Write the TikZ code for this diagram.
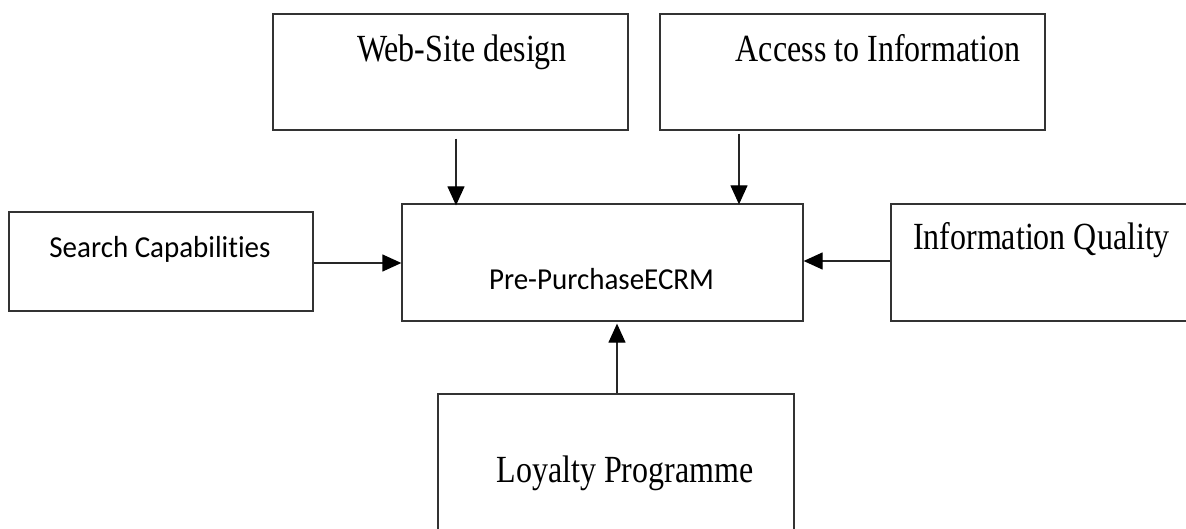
\documentclass[tikz,border=0pt]{standalone}
\usepackage{fontspec}
\setmainfont{Liberation Serif}
\newfontfamily\calib[Ligatures=NoCommon]{Carlito}
\usetikzlibrary{arrows.meta}
\tikzset{
  box/.style={draw=black!80, line width=1.3pt, rectangle, inner sep=0pt},
  serlabel/.style={inner sep=0pt, anchor=base, font=\fontsize{32}{38}\selectfont},
  sanlabel/.style={inner sep=0pt, anchor=base, font=\calib\fontsize{29}{35}\selectfont},
  arr/.style={draw=black!85, line width=1.3pt, -{Triangle[width=17pt,length=19pt,color=black]}}
}
\newcommand{\vstretch}[2]{\scalebox{1}[#1]{#2}}
\begin{document}
\begin{tikzpicture}[x=1pt,y=-1pt]
\useasboundingbox (0,0) rectangle (1186,529);
% boxes
\node[box, minimum width=355pt, minimum height=116pt] (web) at (450.5,72) {};
\node[box, minimum width=385pt, minimum height=116pt] (acc) at (852.5,72) {};
\node[box, minimum width=304pt, minimum height=99pt] (srch) at (161,261.5) {};
\node[box, minimum width=401pt, minimum height=117pt] (pre) at (602.5,262.5) {};
\node[box, minimum width=309pt, minimum height=117pt] (info) at (1045.5,262.5) {};
\node[box, minimum width=356pt, minimum height=166pt] (loy) at (616,477) {};
% labels
\node[serlabel] (webt) at (462,62) {\vstretch{1.2}{Web-Site design}};
\node[serlabel] (acct) at (878,62) {\vstretch{1.2}{Access to Information}};
\node[sanlabel] (srcht) at (160,258) {\vstretch{1.05}{Search Capabilities}};
\node[sanlabel] (pret) at (601.5,290) {\vstretch{1.05}{Pre-PurchaseECRM}};
\node[serlabel] (infot) at (1041.5,250) {\vstretch{1.2}{Information Quality}};
\node[serlabel] (loyt) at (625,482) {\vstretch{1.2}{Loyalty Programme}};
% connectors
\draw[arr, shorten <=8pt, shorten >=-2pt] ([xshift=5.5pt]web.south) -- ([xshift=-146.5pt]pre.north);
\draw[arr, shorten <=3pt, shorten >=-1pt] ([xshift=-113.5pt]acc.south) -- ([xshift=136.5pt]pre.north);
\draw[arr] ([yshift=-1.5pt]srch.east) -- ([yshift=-0.5pt]pre.west);
\draw[arr] ([yshift=1.5pt]info.west) -- ([yshift=1.5pt]pre.east);
\draw[arr, shorten >=2pt] ([xshift=1pt]loy.north) -- ([xshift=14.5pt]pre.south);
\end{tikzpicture}
\end{document}
